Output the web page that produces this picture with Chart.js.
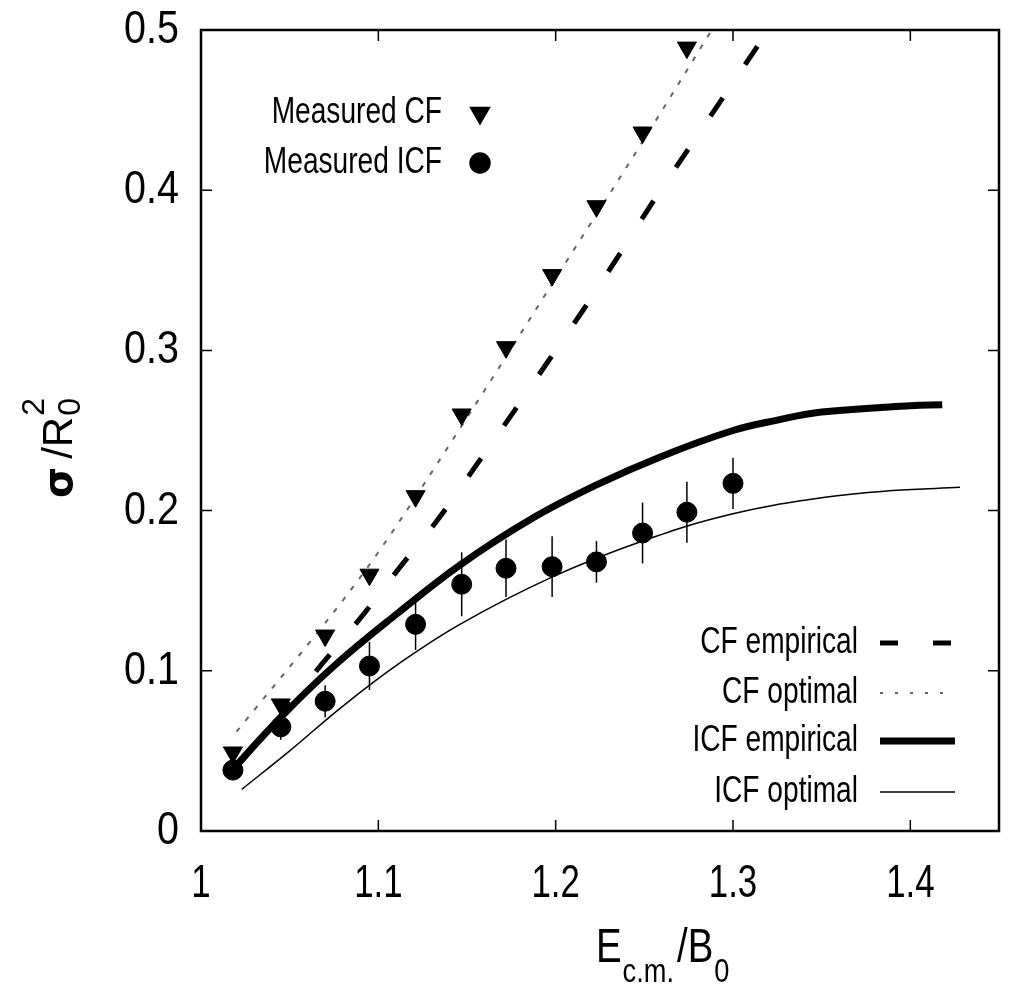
<!DOCTYPE html>
<html>
<head>
<meta charset="utf-8">
<script src="https://cdn.jsdelivr.net/npm/chart.js@4.4.0/dist/chart.umd.min.js"></script>
<style>
  html, body { margin: 0; padding: 0; background: #fff; }
  #wrap { width: 1011px; height: 986px; }
</style>
</head>
<body>
<div id="wrap"><canvas id="chart" width="1011" height="986"></canvas></div>
<script>
// measured points
const measuredX = [1.018, 1.045, 1.070, 1.095, 1.121, 1.147, 1.172, 1.198, 1.223, 1.249, 1.274, 1.300];
const measuredCF = [0.049, 0.079, 0.122, 0.160, 0.209, 0.260, 0.302, 0.347, 0.390, 0.436, 0.489];
const measuredICF = [0.038, 0.065, 0.081, 0.103, 0.129, 0.154, 0.164, 0.165, 0.168, 0.186, 0.199, 0.217];
const icfErr = [0.006, 0.008, 0.010, 0.015, 0.016, 0.020, 0.018, 0.019, 0.013, 0.019, 0.019, 0.016];

// model curves
const cfEmpX = [1.020, 1.045, 1.068, 1.090, 1.111, 1.134, 1.155, 1.174, 1.195, 1.216, 1.236, 1.255, 1.275, 1.320];
const cfEmpY = [0.040, 0.072, 0.104, 0.133, 0.163, 0.195, 0.228, 0.258, 0.292, 0.326, 0.360, 0.393, 0.426, 0.500];
const cfOptX = [1.020, 1.040, 1.060, 1.080, 1.100, 1.150, 1.200, 1.250, 1.288];
const cfOptY = [0.062, 0.089, 0.116, 0.144, 0.174, 0.258, 0.345, 0.432, 0.500];
const icfEmpX = [1.015, 1.045, 1.075, 1.111, 1.146, 1.185, 1.223, 1.260, 1.300, 1.325, 1.350, 1.400, 1.418];
const icfEmpY = [0.035, 0.071, 0.103, 0.136, 0.166, 0.194, 0.216, 0.234, 0.250, 0.2565, 0.2615, 0.2655, 0.266];
const icfOptX = [1.023, 1.050, 1.080, 1.111, 1.146, 1.197, 1.249, 1.300, 1.353, 1.390, 1.428];
const icfOptY = [0.026, 0.050, 0.078, 0.104, 0.129, 0.158, 0.181, 0.198, 0.2085, 0.2125, 0.2145];

const xTicks = [1, 1.1, 1.2, 1.3, 1.4];
const yTicks = [0, 0.1, 0.2, 0.3, 0.4, 0.5];

const FONT = "'Liberation Sans', Arial, sans-serif";
const SQUEEZE = 0.78;

function pts(xs, ys) {
  return ys.map((y, i) => ({ x: xs[i], y: y }));
}

// narrow text: the reference font is condensed
function narrowText(ctx, str, x, y, font, align, sx) {
  ctx.save();
  ctx.font = font;
  ctx.textAlign = align;
  ctx.translate(x, y);
  ctx.scale(sx || SQUEEZE, 1);
  ctx.fillText(str, 0, 0);
  const w = ctx.measureText(str).width * (sx || SQUEEZE);
  ctx.restore();
  return w;
}

const datasets = [
  {
    label: "Measured CF",
    data: pts(measuredX, measuredCF),
    pointStyle: "triangle",
    rotation: 180,
    pointRadius: 11,
    backgroundColor: "#000",
    borderColor: "#000",
    borderWidth: 1,
    showLine: false
  },
  {
    label: "Measured ICF",
    data: pts(measuredX, measuredICF),
    pointStyle: "circle",
    pointRadius: 10,
    backgroundColor: "#000",
    borderColor: "#000",
    borderWidth: 1,
    showLine: false
  },
  {
    label: "CF empirical",
    data: pts(cfEmpX, cfEmpY),
    borderColor: "#000",
    borderWidth: 5,
    borderDash: [22, 40],
    pointRadius: 0,
    showLine: true,
    cubicInterpolationMode: "monotone"
  },
  {
    label: "CF optimal",
    data: pts(cfOptX, cfOptY),
    borderColor: "#666",
    borderWidth: 2,
    borderDash: [5, 9],
    pointRadius: 0,
    showLine: true,
    cubicInterpolationMode: "monotone"
  },
  {
    label: "ICF empirical",
    data: pts(icfEmpX, icfEmpY),
    borderColor: "#000",
    borderWidth: 7,
    pointRadius: 0,
    showLine: true,
    tension: 0.4
  },
  {
    label: "ICF optimal",
    data: pts(icfOptX, icfOptY),
    borderColor: "#000",
    borderWidth: 1.5,
    pointRadius: 0,
    showLine: true,
    tension: 0.4
  }
];

// frame, inward ticks, tick labels, error bars, legends and axis titles
const decorations = {
  id: "decorations",
  afterDatasetsDraw(chart) {
    const ctx = chart.ctx;
    const xs = chart.scales.x;
    const ys = chart.scales.y;
    const area = chart.chartArea;

    ctx.save();
    // error bars
    ctx.strokeStyle = "#000";
    ctx.lineWidth = 1.5;
    measuredICF.forEach((v, i) => {
      const px = xs.getPixelForValue(measuredX[i]);
      ctx.beginPath();
      ctx.moveTo(px, ys.getPixelForValue(v - icfErr[i]));
      ctx.lineTo(px, ys.getPixelForValue(v + icfErr[i]));
      ctx.stroke();
    });

    // frame
    ctx.lineWidth = 2.5;
    ctx.strokeRect(area.left, area.top, area.right - area.left, area.bottom - area.top);

    // inward ticks on all four sides
    ctx.lineWidth = 1.5;
    const tl = 11;
    xTicks.forEach(v => {
      const px = xs.getPixelForValue(v);
      ctx.beginPath();
      ctx.moveTo(px, area.bottom); ctx.lineTo(px, area.bottom - tl);
      ctx.moveTo(px, area.top); ctx.lineTo(px, area.top + tl);
      ctx.stroke();
    });
    yTicks.forEach(v => {
      const py = ys.getPixelForValue(v);
      ctx.beginPath();
      ctx.moveTo(area.left, py); ctx.lineTo(area.left + tl, py);
      ctx.moveTo(area.right, py); ctx.lineTo(area.right - tl, py);
      ctx.stroke();
    });

    // tick labels
    ctx.fillStyle = "#000";
    ctx.textBaseline = "middle";
    const tickFont = "47px " + FONT;
    xTicks.forEach(v => {
      narrowText(ctx, String(v), xs.getPixelForValue(v), area.bottom + 53, tickFont, "center", 0.74);
    });
    yTicks.forEach(v => {
      narrowText(ctx, String(v), area.left - 22, ys.getPixelForValue(v), tickFont, "right", 0.84);
    });

    // legends
    const legFont = "37px " + FONT;
    const topRows = [{ i: 0, y: 113 }, { i: 1, y: 163 }];
    topRows.forEach(r => {
      const ds = chart.data.datasets[r.i];
      narrowText(ctx, ds.label, 442, r.y, legFont, "right", 0.76);
      Chart.helpers.drawPoint(ctx, {
        pointStyle: ds.pointStyle,
        radius: ds.pointRadius,
        rotation: ds.rotation || 0,
        borderWidth: 1
      }, 480, r.y);
    });

    const sampleDash = { 2: [18, 35], 3: [3, 12] };
    const bottomRows = [{ i: 2, y: 643 }, { i: 3, y: 693 }, { i: 4, y: 741 }, { i: 5, y: 792 }];
    bottomRows.forEach(r => {
      const ds = chart.data.datasets[r.i];
      narrowText(ctx, ds.label, 858, r.y, legFont, "right", 0.76);
      ctx.save();
      ctx.strokeStyle = ds.borderColor;
      ctx.lineWidth = ds.borderWidth;
      ctx.setLineDash(sampleDash[r.i] || []);
      ctx.beginPath();
      ctx.moveTo(880, r.y);
      ctx.lineTo(955, r.y);
      ctx.stroke();
      ctx.restore();
    });

    // x axis title: E_{c.m.}/B_0
    ctx.textBaseline = "alphabetic";
    const big = "48px " + FONT;
    const small = "34px " + FONT;
    let x = 596;
    const base = 962;
    x += narrowText(ctx, "E", x, base, big, "left", 0.8) + 1;
    x += narrowText(ctx, "c.m.", x, base + 20, small, "left", 0.8) + 3;
    x += narrowText(ctx, "/B", x, base, big, "left", 0.8) + 1;
    narrowText(ctx, "0", x, base + 20, small, "left", 0.8);

    // y axis title: sigma / R_0^2 (rotated)
    ctx.save();
    ctx.translate(72, 498);
    ctx.rotate(-Math.PI / 2);
    let t = 0;
    ctx.textAlign = "left";
    ctx.font = "bold 40px 'DejaVu Sans', sans-serif";
    ctx.fillText("\u03c3", t, 0); t += ctx.measureText("\u03c3").width + 8;
    ctx.font = "42px " + FONT;
    ctx.fillText("/R", t, 0); t += ctx.measureText("/R").width + 1;
    ctx.font = "32px " + FONT;
    ctx.fillText("0", t, 8);
    ctx.fillText("2", t, -28);
    ctx.restore();

    ctx.restore();
  }
};

const chart = new Chart(document.getElementById("chart"), {
  type: "scatter",
  data: { datasets: datasets },
  options: {
    responsive: false,
    animation: false,
    devicePixelRatio: 1,
    layout: { padding: { top: 30, right: 5, left: 0, bottom: 0 } },
    plugins: { legend: { display: false }, tooltip: { enabled: false } },
    scales: {
      x: {
        type: "linear",
        min: 1,
        max: 1.45,
        afterBuildTicks: scale => { scale.ticks = xTicks.map(v => ({ value: v })); },
        afterFit: scale => {
          scale.height = 155;
          scale.paddingLeft = 0;
          scale.paddingRight = 0;
        },
        ticks: { display: false },
        grid: { display: false, drawTicks: false },
        border: { display: false }
      },
      y: {
        min: 0,
        max: 0.5,
        afterBuildTicks: scale => { scale.ticks = yTicks.map(v => ({ value: v })); },
        afterFit: scale => {
          scale.width = 201;
          scale.paddingTop = 0;
          scale.paddingBottom = 0;
        },
        ticks: { display: false },
        grid: { display: false, drawTicks: false },
        border: { display: false }
      }
    }
  },
  plugins: [decorations]
});
</script>
</body>
</html>
